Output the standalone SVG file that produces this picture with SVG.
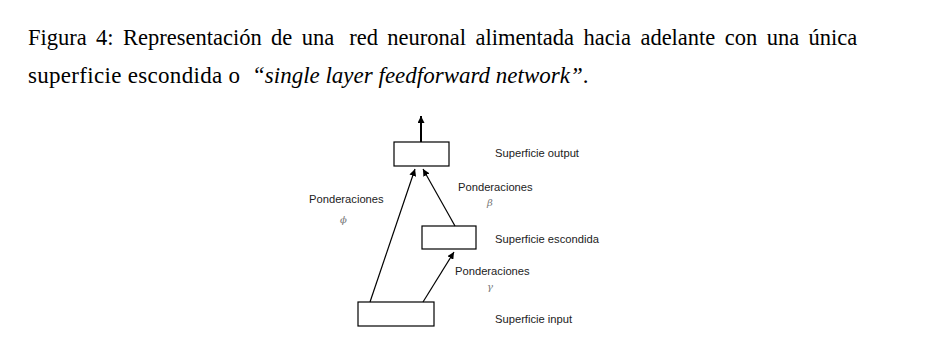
<svg xmlns="http://www.w3.org/2000/svg" width="928" height="363" viewBox="0 0 928 363">
<style>
.cap{font-family:"Liberation Serif","Times New Roman",serif;font-size:22.5px;fill:#000;}
.cap2{font-family:"Liberation Serif","Times New Roman",serif;font-size:23px;fill:#000;}
.it{font-style:italic;}
.lbl{font-family:"Liberation Sans",Arial,sans-serif;font-size:11.2px;fill:#222;}
.gr{font-family:"DejaVu Serif","Liberation Serif",serif;font-style:italic;font-size:10px;fill:#777;}
.box{fill:#fff;stroke:#000;stroke-width:1.2;}
.edge{stroke:#000;stroke-width:1.2;fill:none;marker-end:url(#ah);}
</style>
<defs>
<marker id="ah" viewBox="0 0 10 10" refX="10" refY="5" markerWidth="7" markerHeight="7" markerUnits="userSpaceOnUse" orient="auto">
<path d="M0,0 L10,5 L0,10 z" fill="#000"/>
</marker>
</defs>
<rect width="928" height="363" fill="#fff"/>
<text class="cap" y="45"><tspan x="28">Figura</tspan><tspan x="96.1">4:</tspan><tspan x="123">Representación</tspan><tspan x="271.1">de</tspan><tspan x="301.7">una</tspan><tspan x="349.2">red</tspan><tspan x="387.3">neuronal</tspan><tspan x="475.4">alimentada</tspan><tspan x="583.5">hacia</tspan><tspan x="640.4">adelante</tspan><tspan x="724.8">con</tspan><tspan x="766.7">una</tspan><tspan x="808.6">única</tspan></text>
<text class="cap2" y="83"><tspan x="28" textLength="212" lengthAdjust="spacing">superficie escondida o</tspan><tspan class="it" x="252">“single layer feedforward network”</tspan><tspan>.</tspan></text>
<g id="output">
<rect class="box" x="394" y="142" width="55" height="24"/>
<text class="lbl" x="495" y="157">Superficie output</text>
</g>
<g id="hidden">
<rect class="box" x="422" y="226" width="54" height="23"/>
<text class="lbl" x="495" y="243">Superficie escondida</text>
</g>
<g id="input">
<rect class="box" x="358" y="302" width="76" height="24"/>
<text class="lbl" x="495" y="323">Superficie input</text>
</g>
<g id="connectors">
<line x1="421" y1="142" x2="421" y2="116" style="stroke:#000;stroke-width:2;marker-end:url(#ah)"/>
<line class="edge" x1="370" y1="302" x2="415" y2="169"/>
<line class="edge" x1="455" y1="226" x2="423" y2="169"/>
<line class="edge" x1="423" y1="302" x2="454" y2="252"/>
<text class="lbl" x="309" y="203">Ponderaciones</text>
<text class="gr" x="340" y="223">ϕ</text>
<text class="lbl" x="458" y="191">Ponderaciones</text>
<text class="gr" x="487" y="206">β</text>
<text class="lbl" x="455" y="275">Ponderaciones</text>
<text class="gr" x="487" y="290">γ</text>
</g>
</svg>
